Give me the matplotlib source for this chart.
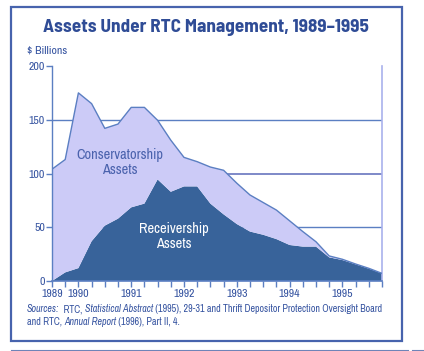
import matplotlib
matplotlib.use("Agg")
import matplotlib.pyplot as plt
from matplotlib.patches import Rectangle
from matplotlib.lines import Line2D
from matplotlib import font_manager

# Quarterly data, 1989 Q3 .. 1995 Q4 ($ billions)
quarters = list(range(26))
receivership = [0, 8, 12, 37, 51.5, 58, 68.5, 72, 94.5, 83, 88, 88, 72, 62, 53, 46,
                43, 39, 33.5, 32, 32, 22, 19.5, 15.5, 11.5, 7]
total_assets = [104, 113, 175, 165, 142, 146, 161.5, 161.5, 149.5, 131, 115, 111, 106, 103, 91, 80,
                73, 66, 56, 46, 36.5, 23.3, 20.2, 15.8, 11.8, 7.1]
conservatorship = [t - r for t, r in zip(total_assets, receivership)]
year_labels = ["1989", "1990", "1991", "1992", "1993", "1994", "1995"]
year_positions = [0, 2, 6, 10, 14, 18, 22]
y_ticks = [0, 50, 100, 150, 200]

names = {f.name for f in font_manager.fontManager.ttflist}
def pick(cands):
    for c in cands:
        if c in names:
            return c
    return "DejaVu Sans"
BODY = pick(["Archivo Narrow", "Liberation Sans Narrow", "Barlow Semi Condensed", "Liberation Sans"])
TITLE = pick(["Barlow Semi Condensed", "Asap Condensed", "Archivo Narrow", "Liberation Sans"])
plt.rcParams['font.family'] = [BODY, 'DejaVu Sans']

TXT = "#3553a0"
LIGHT = "#cccbf7"
DARK = "#38639a"
LINE = "#5b7fc2"

fig = plt.figure(figsize=(4.24, 3.51), dpi=100)
fig.patch.set_facecolor("white")

# outer frame
fig.add_artist(Rectangle((11/424, 1-341/351), 391/424, 334/351, transform=fig.transFigure,
                         fill=False, edgecolor="#4763ad", linewidth=1.6))
fig.add_artist(Line2D([11/424, 408/424], [1-349.5/351]*2, transform=fig.transFigure,
                      color="#6f84b8", linewidth=0.8))
fig.add_artist(Line2D([412/424, 424/424], [1-349.5/351]*2, transform=fig.transFigure,
                      color="#6f84b8", linewidth=0.8))

ax = fig.add_axes([52/424, 1-281/351, 330/424, 215/351])
ax.stackplot(quarters, receivership, conservatorship, colors=[DARK, LIGHT], linewidth=0)
ax.plot(quarters, total_assets, color=LINE, linewidth=1.0, zorder=3)

for v in [50, 100, 150]:
    ax.axhline(v, color=LINE if v != 100 else "#7480c4", linewidth=1.0 if v != 100 else 1.3, zorder=0.5)

ax.set_xlim(0, 25)
ax.set_ylim(0, 200)
ax.set_facecolor("white")
ax.spines["top"].set_visible(False)
ax.spines["left"].set_color(LINE)
ax.spines["bottom"].set_color(LINE)
ax.spines["right"].set_color("#a9b1ec")
ax.spines["left"].set_linewidth(1.0)
ax.spines["bottom"].set_linewidth(1.2)
ax.spines["right"].set_linewidth(1.2)

ax.set_yticks(y_ticks)
ax.set_yticklabels([str(v) for v in y_ticks])
ax.tick_params(axis="y", colors=LINE, labelcolor=TXT, labelsize=8.5, length=4, width=1, pad=1)
ax.set_xticks(quarters, minor=True)
ax.set_xticks(year_positions)
ax.set_xticklabels(year_labels)
ax.tick_params(axis="x", which="both", colors=LINE, labelcolor=TXT, labelsize=8.5, length=4, width=1, pad=1.5)
ax.set_axisbelow(False)

ax.text(5.1, 110, "Conservatorship\nAssets", ha="center", va="center", color="#4a62ad",
        fontsize=10.3, linespacing=1.1)
ax.text(9.2, 41, "Receivership\nAssets", ha="center", va="center", color="white",
        fontsize=10.3, linespacing=1.1)

fig.text(206/424, 1-27/351, "Assets Under RTC Management, 1989\u20131995", ha="center", va="center",
         color="#2f4c96", fontsize=13.8, fontweight="bold", family=[TITLE, "DejaVu Sans"])
fig.text(27/424, 1-51/351, "$ Billions", ha="left", va="center", color=TXT, fontsize=8.5)

y1 = 1 - 309/351
y2 = 1 - 322/351
parts = [("Sources:", "italic"), ("  RTC, ", "normal"), ("Statistical Abstract", "italic"),
         (" (1995), 29-31 and Thrift Depositor Protection Oversight Board", "normal")]
fig.canvas.draw()
r = fig.canvas.get_renderer()
x = 27/424
for s, st in parts:
    t = fig.text(x, y1, s, ha="left", va="center", color=TXT, fontsize=7.2, style=st)
    bb = t.get_window_extent(renderer=r)
    x += bb.width / fig.bbox.width
parts2 = [("and RTC, ", "normal"), ("Annual Report", "italic"), (" (1996), Part II, 4.", "normal")]
x = 27/424
for s, st in parts2:
    t = fig.text(x, y2, s, ha="left", va="center", color=TXT, fontsize=7.2, style=st)
    bb = t.get_window_extent(renderer=r)
    x += bb.width / fig.bbox.width

fig.savefig("out.png", dpi=100)
